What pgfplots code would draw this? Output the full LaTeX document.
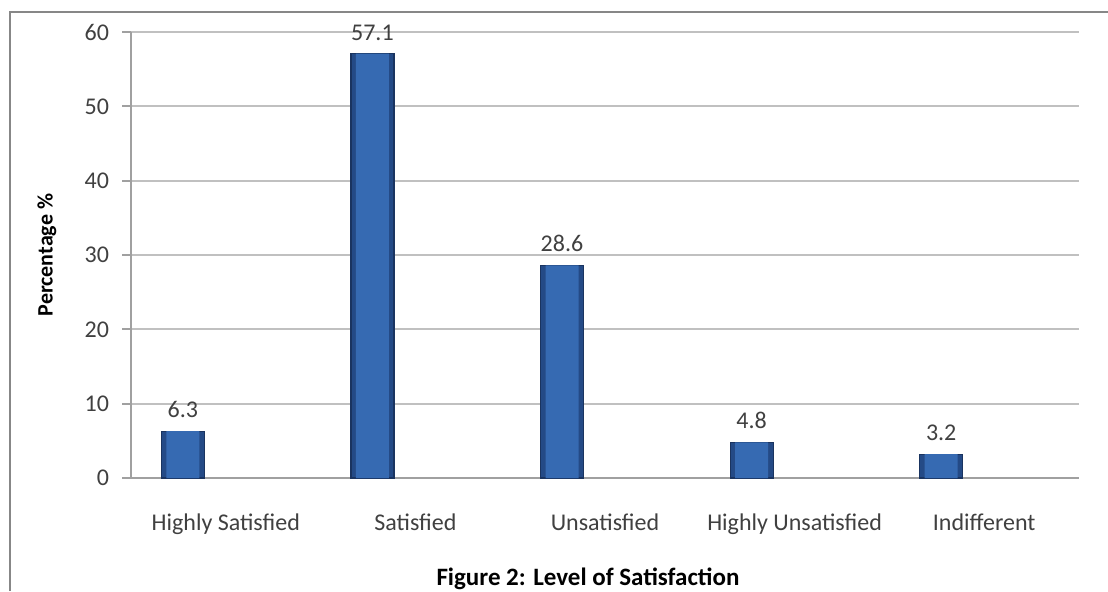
\documentclass[border=0pt]{standalone}
\usepackage{pgfplots}
\pgfplotsset{compat=1.18}
\usepackage{fontspec}
\setmainfont{Carlito}

\definecolor{barmid}{RGB}{54,106,178}
\definecolor{baredge}{RGB}{26,52,96}
\definecolor{barside}{RGB}{36,74,134}
\definecolor{gridgray}{RGB}{192,192,192}
\definecolor{axisgray}{RGB}{160,160,160}
\definecolor{framegray}{RGB}{135,135,135}
\definecolor{textgray}{RGB}{64,64,64}

\begin{document}
\begin{tikzpicture}
\useasboundingbox (0,0) rectangle (554pt,295.5pt);
\draw[framegray, line width=1pt] (5pt,0) -- (5pt,289.5pt) -- (554pt,289.5pt);
\begin{axis}[
  at={(65.5pt,56.5pt)}, anchor=south west,
  scale only axis, width=474pt, height=223pt,
  xmin=-0.5, xmax=4.5, ymin=0, ymax=60,
  ytick={0,10,...,60},
  xtick={0,1,2,3,4},
  xticklabels={Highly Satisfied, Satisfied, Unsatisfied, Highly Unsatisfied, Indifferent},
  axis x line*=bottom, axis y line*=left,
  axis line style={draw=axisgray, line width=0.9pt},
  ymajorgrids, grid style={draw=gridgray, line width=0.9pt},
  tick align=outside, major tick length=4.5pt,
  ytick style={draw=axisgray, line width=0.9pt},
  xtick style={draw=none},
  tick label style={font=\fontsize{12}{14}\selectfont, text=textgray},
  /pgf/number format/assume math mode=true,
  yticklabel style={xshift=-3pt},
  xticklabel style={yshift=-10pt},
  ylabel={Percentage \%},
  ylabel style={font=\bfseries\fontsize{11}{13}\selectfont, at={(axis description cs:-0.0886,0.5)}, anchor=center},
  clip=false,
]
% outer bar with dark sides
\addplot[ybar, bar width=21.5pt, bar shift=-21.5pt, draw=baredge, line width=0.6pt, fill=barside,
  nodes near coords,
  nodes near coords style={font=\fontsize{12}{14}\selectfont, text=textgray, xshift=-21.5pt, yshift=3pt,
    /pgf/number format/.cd, fixed, zerofill, precision=1, assume math mode=true}]
  coordinates {(0,6.3) (1,57.1) (2,28.6) (3,4.8) (4,3.2)};
% lighter face of the bars
\addplot[ybar, bar width=16.5pt, bar shift=-21.5pt, draw=none, fill=barmid]
  coordinates {(0,6.3) (1,57.1) (2,28.6) (3,4.8) (4,3.2)};
\end{axis}
\node[font=\bfseries\fontsize{12.5}{14}\selectfont, anchor=base] at (294pt,3pt) {Figure 2: Level of Satisfaction};
\end{tikzpicture}
\end{document}
